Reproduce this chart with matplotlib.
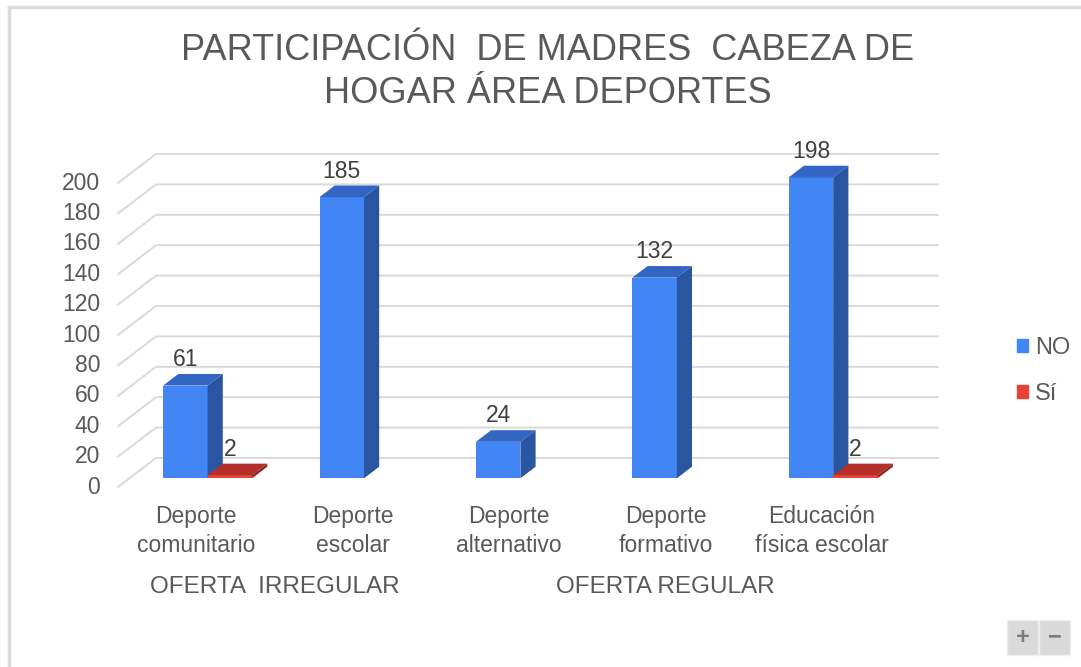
import matplotlib
matplotlib.use("Agg")
import matplotlib.pyplot as plt
from matplotlib.patches import Polygon, Patch, Rectangle
from matplotlib.lines import Line2D
import numpy as np

plt.rcParams['font.family'] = ['Liberation Sans', 'DejaVu Sans']

# ================== DATOS ==================
categorias = ["Deporte\ncomunitario", "Deporte\nescolar", "Deporte\nalternativo",
              "Deporte\nformativo", "Educación\nfísica escolar"]
grupos = ["OFERTA  IRREGULAR", "OFERTA REGULAR"]
grupo_rango = [(0, 1), (2, 4)]
no = [61, 185, 24, 132, 198]
si = [2, 0, 0, 0, 2]
ticks_y = list(range(0, 201, 20))

titulo = "PARTICIPACIÓN  DE MADRES  CABEZA DE\nHOGAR ÁREA DEPORTES"

# colores (frente, arriba, lado)
azul = ("#4285F4", "#3366C4", "#2A55A0")
rojo = ("#EA4335", "#B3302A", "#8E2620")
gris_txt = "#595959"
gris_grid = "#d9d9d9"

# ================== GEOMETRIA (px) ==================
W, H = 1081, 667
x0_px, x1_px = 118, 900      # plano frontal
y0_px = 487                  # valor 0 en el plano frontal
top_px = 120
px_unit = 1.52
cat_px = (x1_px - x0_px) / len(no)
dx_px, dy_px = 38, 29        # profundidad del piso

fig = plt.figure(figsize=(W / 100, H / 100), dpi=100)
fig.patch.set_facecolor("white")

ax = fig.add_axes([x0_px / W, 1 - y0_px / H,
                   (x1_px + dx_px - x0_px) / W, (y0_px - top_px) / H])
ax.set_xlim(-0.5, -0.5 + (x1_px + dx_px - x0_px) / cat_px)
ax.set_ylim(0, (y0_px - top_px) / px_unit)
ax.axis("off")

DX = dx_px / cat_px
DY = dy_px / px_unit
n = len(no)

# ================== GRILLA ==================
for v in ticks_y:
    ax.plot([-0.5, -0.5 + DX, n - 0.5 + DX], [v, v + DY, v + DY],
            color=gris_grid, lw=1.4, clip_on=False, zorder=1)
    ax.text(-0.5 - 18 / cat_px, v, str(v), ha="right", va="center",
            fontsize=16.5, color=gris_txt)

# ================== BARRAS 3D ==================
w = 44.5 / cat_px
d0, d1 = 0.3, 0.4            # posicion y grosor en profundidad
base = d0 * DY
bdx, bdy = d1 * DX, d1 * DY


def barra3d(xc, val, cols, z):
    xl, xr = xc - w / 2, xc + w / 2
    top = base + val
    ax.bar(xc, val, width=w, bottom=base, color=cols[0], zorder=z, linewidth=0)
    ax.add_patch(Polygon([(xl, top), (xr, top), (xr + bdx, top + bdy), (xl + bdx, top + bdy)],
                         closed=True, facecolor=cols[1], edgecolor="none", zorder=z))
    ax.add_patch(Polygon([(xr, base), (xr + bdx, base + bdy), (xr + bdx, top + bdy), (xr, top)],
                         closed=True, facecolor=cols[2], edgecolor="none", zorder=z))
    ax.text(xc, top + bdy + 3 / px_unit, str(val), ha="center", va="bottom",
            fontsize=16.5, color="#404040", zorder=10)


centros = np.arange(n) + d0 * DX
for i in range(n):
    if no[i]:
        barra3d(centros[i] - w / 2, no[i], azul, 3 + 2 * i)
    if si[i]:
        barra3d(centros[i] + w / 2, si[i], rojo, 4 + 2 * i)

# ================== EJE X ==================
for i, cat in enumerate(categorias):
    ax.text(i, -(531 - y0_px) / px_unit, cat, ha="center", va="center",
            fontsize=16.5, color=gris_txt, linespacing=1.3, clip_on=False)

for g, (a, b) in zip(grupos, grupo_rango):
    ax.text((a + b) / 2, -(587 - y0_px) / px_unit, g, ha="center", va="center",
            fontsize=17.5, color=gris_txt, clip_on=False)

# ================== TITULO / LEYENDA ==================
fig.text(548 / W, 1 - 72 / H, titulo, ha="center", va="center",
         fontsize=26, color=gris_txt, linespacing=1.32)

leg = fig.legend(handles=[Patch(color=azul[0], label="NO"), Patch(color=rojo[0], label="Sí")],
                 loc="center left", bbox_to_anchor=(996 / W, 1 - 371 / H), frameon=False,
                 fontsize=17, handlelength=0.45, handleheight=0.45, handletextpad=0.3,
                 labelspacing=1.0)
for t in leg.get_texts():
    t.set_color(gris_txt)

# marco del grafico
fig.add_artist(Line2D([9 / W, 9 / W], [0, 1 - 7 / H], transform=fig.transFigure,
                      color="#dcdcdc", lw=2.5))
fig.add_artist(Line2D([9 / W, 1], [1 - 7 / H, 1 - 7 / H], transform=fig.transFigure,
                      color="#dcdcdc", lw=2.5))

# botones + / -
for xb, sym in [(1007, "+"), (1039, "−")]:
    fig.add_artist(Rectangle((xb / W, 1 - 655 / H), 31 / W, 35 / H, transform=fig.transFigure,
                             facecolor="#d9d9d9", edgecolor="#eeeeee", lw=1))
    fig.text((xb + 15.5) / W, 1 - 637 / H, sym, ha="center", va="center",
             fontsize=17, fontweight="bold", color="#7a7a7a")

fig.savefig("out.png", dpi=100)
